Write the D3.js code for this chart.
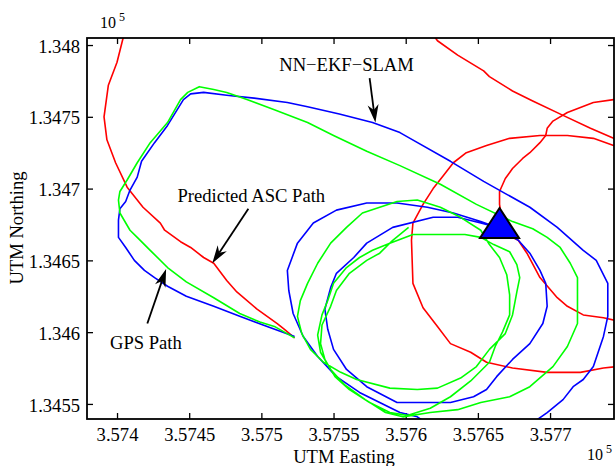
<!DOCTYPE html>
<html>
<head>
<meta charset="utf-8">
<script src="https://cdn.jsdelivr.net/npm/d3@7"></script>
<style>
  body { margin: 0; background: #fff; }
  svg text { font-family: "Liberation Serif", "Times New Roman", serif; fill: #000; }
</style>
</head>
<body>
<div id="chart"></div>
<script>
// all positions are UTM metres: [easting, northing]

// predicted ASC path (red), leaves the frame a few times
const predictedA = [[357523,134596],[357516,134602],[357511,134606],[357504,134611],[357497,134616],[357483,134628],[357476,134636],[357467,134648],[357460,134652],[357451,134659],[357444,134663],[357433,134671],[357430,134676],[357418,134687],[357407,134701],[357399,134718],[357393,134734],[357391,134750],[357394,134772],[357400,134788],[357404,134804],[357406,134810]];
const predictedB = [[357617,134810],[357622,134803],[357636,134793],[357654,134782],[357658,134778],[357674,134768],[357688,134761],[357709,134751],[357728,134742],[357744,134735],[357752,134732]];
const predictedC = [[357752,134763],[357744,134762],[357730,134760],[357712,134753],[357702,134747],[357698,134742],[357697,134737],[357693,134732],[357686,134725],[357681,134721],[357674,134714],[357669,134707],[357665,134698],[357665,134689],[357667,134676],[357670,134668],[357678,134664],[357684,134655],[357693,134638],[357705,134624],[357712,134618],[357723,134612],[357737,134610],[357746,134608],[357752,134608]];
const predictedD = [[357752,134729],[357744,134730],[357730,134735],[357712,134737],[357693,134737],[357672,134735],[357656,134730],[357642,134725],[357633,134718],[357626,134709],[357619,134700],[357612,134689],[357605,134676],[357604,134664],[357605,134634],[357612,134617],[357622,134604],[357631,134592],[357645,134586],[357656,134579],[357674,134575],[357698,134572],[357721,134572],[357737,134575],[357746,134576],[357752,134576]];

// NN-EKF-SLAM estimate (blue)
const slamOuter = [[357523,134597],[357504,134604],[357485,134611],[357467,134618],[357448,134625],[357435,134632],[357426,134638],[357419,134643],[357412,134650],[357406,134659],[357401,134666],[357401,134678],[357402,134686],[357406,134691],[357409,134699],[357414,134708],[357417,134719],[357426,134732],[357435,134744],[357446,134762],[357451,134766],[357460,134767],[357476,134765],[357495,134763],[357518,134760],[357532,134757],[357554,134752],[357577,134746],[357596,134739],[357603,134735],[357631,134719],[357654,134705],[357670,134696],[357686,134687],[357705,134673],[357723,134657],[357732,134650],[357740,134634],[357740,134611],[357737,134597],[357730,134576],[357723,134567],[357716,134562],[357709,134553],[357698,134544],[357691,134539],[357684,134535]];
const slamLoops = [[357617,134535],[357608,134541],[357596,134544],[357582,134551],[357568,134558],[357552,134569],[357539,134583],[357529,134597],[357522,134613],[357519,134629],[357518,134643],[357525,134662],[357536,134676],[357552,134685],[357573,134690],[357594,134690],[357615,134687],[357633,134683],[357652,134677],[357663,134673],[357678,134664],[357686,134655],[357693,134643],[357697,134634],[357698,134618],[357695,134606],[357686,134592],[357674,134581],[357663,134569],[357656,134560],[357647,134555],[357631,134551],[357617,134551],[357594,134551],[357573,134562],[357559,134574],[357550,134588],[357546,134602],[357544,134616],[357548,134631],[357552,134641],[357564,134652],[357573,134662],[357591,134673],[357619,134680],[357636,134680],[357652,134676],[357663,134673]];

// GPS path (green)
const gpsTrack = [[357523,134596],[357509,134604],[357499,134607],[357485,134613],[357467,134624],[357448,134635],[357435,134645],[357423,134657],[357414,134666],[357409,134671],[357402,134683],[357401,134692],[357402,134698],[357407,134706],[357414,134718],[357423,134732],[357435,134746],[357444,134762],[357449,134767],[357457,134771],[357467,134769],[357476,134767],[357490,134762],[357509,134755],[357532,134746],[357550,134737],[357573,134726],[357596,134716],[357624,134703],[357649,134689],[357674,134677],[357688,134672],[357698,134666],[357707,134659],[357714,134648],[357719,134638],[357719,134622],[357719,134606],[357712,134590],[357702,134576],[357686,134562],[357672,134555],[357652,134551],[357636,134546],[357617,134544],[357598,134541],
  [357586,134544],[357572,134553],[357558,134563],[357548,134574],[357541,134586],[357539,134598],[357542,134612],[357546,134622],[357550,134634],[357559,134645],[357568,134652],[357577,134657],[357589,134662],[357605,134668],[357624,134668],[357641,134668],[357652,134666],[357661,134661],[357672,134656],[357677,134647],[357679,134638],[357677,134628],[357674,134612],[357669,134599],[357658,134588],[357649,134576],[357638,134568],[357622,134561],[357608,134560],[357589,134561],[357566,134567],[357555,134572],[357543,134579],[357534,134588],[357528,134599],[357525,134611],[357527,134622],[357532,134634],[357539,134648],[357548,134662],[357559,134673],[357570,134683],[357582,134687],[357594,134691],[357608,134692],[357624,134687],[357638,134680],[357652,134671],[357658,134661],[357665,134652],[357670,134640],[357672,134626],[357672,134612],[357667,134600],[357662,134590],[357658,134579],[357645,134566],[357631,134555],[357617,134547],[357601,134542],
  [357589,134544],[357575,134551],[357561,134560],[357551,134569],[357544,134581],[357541,134592],[357542,134605],[357548,134618],[357552,134629],[357561,134641],[357573,134650],[357582,134655],[357591,134664],[357602,134673]];

const currentPos = [357665, 134676];

const xTickValues = [357400, 357450, 357500, 357550, 357600, 357650, 357700];
const xTickLabels = ["3.574", "3.5745", "3.575", "3.5755", "3.576", "3.5765", "3.577"];
const yTickValues = [134550, 134600, 134650, 134700, 134750, 134800];
const yTickLabels = ["1.3455", "1.346", "1.3465", "1.347", "1.3475", "1.348"];

const notes = [
  { text: "NN\u2212EKF\u2212SLAM", at: [357559, 134782], tail: [357575, 134777], tip: [357579, 134746] },
  { text: "Predicted ASC Path", at: [357493, 134691], tail: [357491, 134686], tip: [357466, 134648] },
  { text: "GPS Path", at: [357420, 134588], tail: [357421, 134606], tip: [357434, 134644] }
];

const width = 616, height = 466;
const box = { left: 87, right: 614, top: 38, bottom: 419 };

const svg = d3.select("#chart").append("svg")
  .attr("width", width)
  .attr("height", height);

const x = d3.scaleLinear().domain([357379.2, 357744.3]).range([box.left, box.right]);
const y = d3.scaleLinear().domain([134539.5, 134804.9]).range([box.bottom, box.top]);

svg.append("clipPath").attr("id", "plotClip")
  .append("rect")
  .attr("x", box.left).attr("y", box.top)
  .attr("width", box.right - box.left).attr("height", box.bottom - box.top);

// inward ticks on all four sides, like matlab
const fontSize = 18.6;
const xFmt = (d, i) => xTickLabels[i];
const yFmt = (d, i) => yTickLabels[i];

svg.append("g").attr("transform", `translate(0,${box.bottom})`)
  .call(d3.axisBottom(x).tickValues(xTickValues).tickFormat(xFmt).tickSizeInner(-6).tickSizeOuter(0).tickPadding(9));
svg.append("g").attr("transform", `translate(0,${box.top})`)
  .call(d3.axisTop(x).tickValues(xTickValues).tickFormat("").tickSizeInner(-6).tickSizeOuter(0));
const gy = svg.append("g").attr("transform", `translate(${box.left},0)`)
  .call(d3.axisLeft(y).tickValues(yTickValues).tickFormat(yFmt).tickSizeInner(-6).tickSizeOuter(0).tickPadding(7));
svg.append("g").attr("transform", `translate(${box.right},0)`)
  .call(d3.axisRight(y).tickValues(yTickValues).tickFormat("").tickSizeInner(-6).tickSizeOuter(0));

svg.selectAll(".domain").remove();
svg.selectAll(".tick line").attr("stroke", "#000").attr("stroke-width", 1.3);
svg.selectAll(".tick text")
  .style("font-family", '"Liberation Serif", serif')
  .style("font-size", fontSize + "px")
  .attr("fill", "#000");
gy.selectAll(".tick text").attr("dy", "0.38em");

const line = d3.line().x(d => x(d[0])).y(d => y(d[1]));
const plot = svg.append("g").attr("clip-path", "url(#plotClip)");

function drawPath(pts, color) {
  plot.append("path")
    .datum(pts)
    .attr("d", line)
    .attr("fill", "none")
    .attr("stroke", color)
    .attr("stroke-width", 1.6)
    .attr("stroke-linejoin", "round");
}

[predictedA, predictedB, predictedC, predictedD].forEach(s => drawPath(s, "#ff0000"));
[slamOuter, slamLoops].forEach(s => drawPath(s, "#0000ff"));
drawPath(gpsTrack, "#00ff00");

// current position marker
const cx = x(currentPos[0]), cy = y(currentPos[1]);
svg.append("path")
  .attr("d", `M${cx},${cy - 15}L${cx + 19.5},${cy + 15}L${cx - 19.5},${cy + 15}Z`)
  .attr("fill", "#0000ff")
  .attr("stroke", "#000")
  .attr("stroke-width", 2)
  .attr("stroke-linejoin", "miter");

// frame
svg.append("rect")
  .attr("x", box.left).attr("y", box.top)
  .attr("width", box.right - box.left).attr("height", box.bottom - box.top)
  .attr("fill", "none")
  .attr("stroke", "#000")
  .attr("stroke-width", 1.8);

// annotations with arrows
notes.forEach(n => {
  svg.append("text")
    .attr("x", x(n.at[0])).attr("y", y(n.at[1]))
    .attr("text-anchor", "middle")
    .style("font-size", fontSize + "px")
    .text(n.text);

  const x1 = x(n.tail[0]), y1 = y(n.tail[1]);
  const x2 = x(n.tip[0]), y2 = y(n.tip[1]);
  const a = Math.atan2(y2 - y1, x2 - x1);
  const L = 18, W = 5.5;
  const ca = Math.cos(a), sa = Math.sin(a);
  const bx = x2 - L * ca, by = y2 - L * sa;
  const nx = x2 - 0.7 * L * ca, ny = y2 - 0.7 * L * sa;

  svg.append("line")
    .attr("x1", x1).attr("y1", y1).attr("x2", nx).attr("y2", ny)
    .attr("stroke", "#000").attr("stroke-width", 1.8);
  svg.append("path")
    .attr("d", `M${x2},${y2}L${bx - sa * W},${by + ca * W}L${nx},${ny}L${bx + sa * W},${by - ca * W}Z`)
    .attr("fill", "#000");
});

// axis labels and exponent tags
svg.append("text")
  .attr("x", 344).attr("y", 463)
  .attr("text-anchor", "middle")
  .style("font-size", fontSize + "px")
  .text("UTM Easting");

svg.append("text")
  .attr("transform", "translate(23,228) rotate(-90)")
  .attr("text-anchor", "middle")
  .style("font-size", fontSize + "px")
  .text("UTM Northing");

function expTag(px, py) {
  const t = svg.append("text").attr("x", px).attr("y", py).style("font-size", "16px");
  t.append("tspan").text("10");
  t.append("tspan").attr("dx", 3).attr("dy", -7).style("font-size", "12px").text("5");
}
expTag(100, 28);
expTag(587, 460);
</script>
</body>
</html>
